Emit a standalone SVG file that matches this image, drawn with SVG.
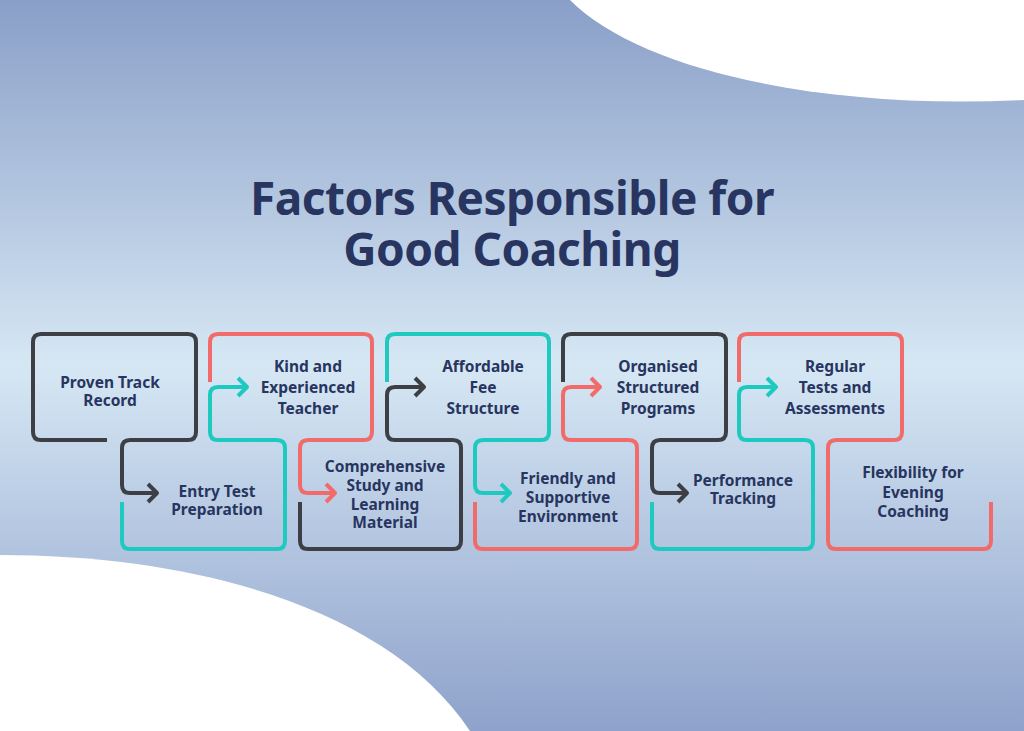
<svg xmlns="http://www.w3.org/2000/svg" width="1024" height="731" viewBox="0 0 1024 731">
<defs>
<linearGradient id="bg" x1="0" y1="0" x2="0" y2="1">
<stop offset="0" stop-color="#8a9fc8"/>
<stop offset="0.5" stop-color="#d6e7f4"/>
<stop offset="1" stop-color="#8ea2cb"/>
</linearGradient>
<style>
.ln{fill:none;stroke-width:4;stroke-linecap:butt;stroke-linejoin:round}
.d{stroke:#3d3f45}.t{stroke:#1ec9c0}.r{stroke:#f26b6b}
.lb{font-family:"Noto Sans","Liberation Sans",sans-serif;font-weight:700;font-size:15.5px;fill:#283560;text-anchor:middle}
.ti{font-family:"Noto Sans","Liberation Sans",sans-serif;font-weight:700;font-size:46px;fill:#283560;text-anchor:middle;letter-spacing:-0.5px}
</style>
</defs>
<rect width="1024" height="731" fill="url(#bg)"/>
<path d="M570,0 C640,70 820,110 1024,100 V0 Z" fill="#fff"/>
<path d="M0,555 C200,555 390,610 470,731 H0 Z" fill="#fff"/>
<g id="title">
<text class="ti" x="512" y="215">Factors Responsible for</text>
<text class="ti" x="512" y="266">Good Coaching</text>
</g>
<g id="n1"><path class="ln d" d="M107,440 H41 Q33,440 33,432 V342 Q33,334 41,334 H188 Q196,334 196,342 V432 Q196,440 188,440 H130"/>
<text class="lb" x="110" y="388">Proven Track</text><text class="lb" x="110" y="406">Record</text></g>
<g id="n2"><path class="ln t" d="M122,502 V541 Q122,549 130,549 H277 Q285,549 285,541 V448 Q285,440 277,440 H218"/>
<text class="lb" x="217" y="497">Entry Test</text><text class="lb" x="217" y="515">Preparation</text></g>
<g id="n3"><path class="ln r" d="M210,382 V342 Q210,334 218,334 H364 Q372,334 372,342 V432 Q372,440 364,440 H308"/>
<text class="lb" x="308" y="372">Kind and</text><text class="lb" x="308" y="393">Experienced</text><text class="lb" x="308" y="414">Teacher</text></g>
<g id="n4"><path class="ln d" d="M300,502 V541 Q300,549 308,549 H453 Q461,549 461,541 V448 Q461,440 453,440 H395"/>
<text class="lb" x="385" y="472">Comprehensive</text><text class="lb" x="385" y="491">Study and</text><text class="lb" x="385" y="510">Learning</text><text class="lb" x="385" y="528">Material</text></g>
<g id="n5"><path class="ln t" d="M387,382 V342 Q387,334 395,334 H541 Q549,334 549,342 V432 Q549,440 541,440 H483"/>
<text class="lb" x="483" y="372">Affordable</text><text class="lb" x="483" y="393">Fee</text><text class="lb" x="483" y="414">Structure</text></g>
<g id="n6"><path class="ln r" d="M475,502 V541 Q475,549 483,549 H629 Q637,549 637,541 V448 Q637,440 629,440 H571"/>
<text class="lb" x="568" y="484">Friendly and</text><text class="lb" x="568" y="503">Supportive</text><text class="lb" x="568" y="522">Environment</text></g>
<g id="n7"><path class="ln d" d="M563,382 V342 Q563,334 571,334 H718 Q726,334 726,342 V432 Q726,440 718,440 H660"/>
<text class="lb" x="658" y="372">Organised</text><text class="lb" x="658" y="393">Structured</text><text class="lb" x="658" y="414">Programs</text></g>
<g id="n8"><path class="ln t" d="M652,502 V541 Q652,549 660,549 H805 Q813,549 813,541 V448 Q813,440 805,440 H747"/>
<text class="lb" x="743" y="486">Performance</text><text class="lb" x="743" y="504">Tracking</text></g>
<g id="n9"><path class="ln r" d="M739,382 V342 Q739,334 747,334 H894 Q902,334 902,342 V432 Q902,440 894,440 H836"/>
<text class="lb" x="835" y="372">Regular</text><text class="lb" x="835" y="393">Tests and</text><text class="lb" x="835" y="414">Assessments</text></g>
<g id="n10"><path class="ln r" d="M836,440 Q828,440 828,448 V541 Q828,549 836,549 H983 Q991,549 991,541 V502"/>
<text class="lb" x="913" y="478">Flexibility for</text><text class="lb" x="913" y="498">Evening</text><text class="lb" x="913" y="517">Coaching</text></g>
<g id="connectors">
<path class="ln d" d="M130,440 Q122,440 122,448 V485 Q122,493 130,493 H157 M148,484 L157,493 L148,502"/>
<path class="ln t" d="M218,440 Q210,440 210,432 V395 Q210,387 218,387 H247 M238,378 L247,387 L238,396"/>
<path class="ln r" d="M308,440 Q300,440 300,448 V485 Q300,493 308,493 H335 M326,484 L335,493 L326,502"/>
<path class="ln d" d="M395,440 Q387,440 387,432 V395 Q387,387 395,387 H424 M415,378 L424,387 L415,396"/>
<path class="ln t" d="M483,440 Q475,440 475,448 V485 Q475,493 483,493 H510 M501,484 L510,493 L501,502"/>
<path class="ln r" d="M571,440 Q563,440 563,432 V395 Q563,387 571,387 H600 M591,378 L600,387 L591,396"/>
<path class="ln d" d="M660,440 Q652,440 652,448 V485 Q652,493 660,493 H687 M678,484 L687,493 L678,502"/>
<path class="ln t" d="M747,440 Q739,440 739,432 V395 Q739,387 747,387 H776 M767,378 L776,387 L767,396"/>
</g>
</svg>
